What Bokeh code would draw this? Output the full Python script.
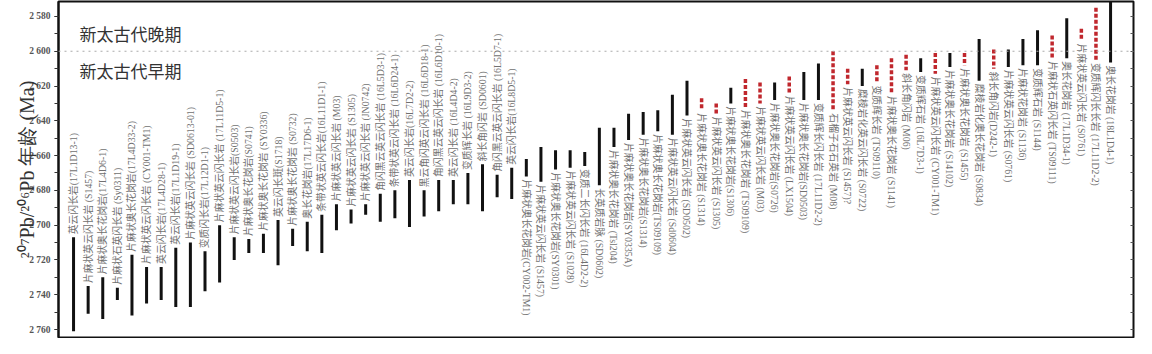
import math
from bokeh.plotting import figure
from bokeh.models import ColumnDataSource, Range1d, LinearAxis, FixedTicker, Span, Label
from bokeh.core.properties import value
from bokeh.embed import file_html
from bokeh.resources import INLINE

# ---------------- data ----------------
labels = [
    "英云闪长岩(17L1D13-1)", "片麻状英云闪长岩 (S1457)", "片麻状奥长花岗岩(17L4D6-1)",
    "片麻状石英闪长岩 (Sy0311)", "片麻状奥长花岗岩(17L4D33-2)", "片麻状英云闪长岩 (CY001-TM1)",
    "英云闪长岩(17L4D28-1)", "英云闪长岩(17L1D19-1)", "片麻状英云闪长岩 (SD0613-01)",
    "变质闪长岩(17L12D1-1)", "片麻状英云闪长岩 (17L11D5-1)", "片麻状英云闪长岩(S0503)",
    "片麻状奥长花岗岩(S0741)", "片麻状奥长花岗岩 (SY0336)", "英云闪长斑(S1718)",
    "片麻状奥长花岗岩 (S0732)", "奥长花岗岩(17L17D6-1)", "条带状英云闪长岩(16L11D1-1)",
    "片麻状英云闪长岩 (M03)", "片麻状英云闪长岩 (S1305)", "片麻状英云闪长岩 (JN0742)",
    "角闪黑云英云闪长岩 (16L5D3-1)", "条带状英云闪长岩 (16L6D24-1)", "英云闪长岩(16L7D2-2)",
    "黑云角闪英云闪长岩 (16L6D18-1)", "角闪黑云英云闪长岩 (16L6D10-1)", "英云闪长岩 (16L4D4-2)",
    "变质辉长岩 (16L9D3-2)", "斜长角闪岩 (SD0601)", "角闪黑云英云闪长岩 (16L5D7-1)",
    "英云闪长岩(16L8D5-1)",
    "片麻状奥长花岗岩(CY002-TM1)", "片麻状英云闪长岩 (S1457)", "片麻状奥长花岗岩(SY0301)",
    "片麻状英云闪长岩 (S1028)", "变质二长闪长岩 (16L4D2-2)", "长英质岩脉 (SD0602)",
    "片麻状奥长花岗岩 (Tsl204)", "片麻状奥长花岗岩(SY0335A)", "片麻状奥长花岗岩(S1314)",
    "片麻状奥长花岗岩(TS09109)", "片麻状英云闪长岩 (Sd0604)", "片麻状英云闪长岩 (SD0502)",
    "片麻状奥长花岗岩 (S1314)", "片麻状英云闪长岩 (S1305)", "片麻状奥长花岗岩(S1306)",
    "片麻状奥长花岗岩 (TS09109)", "片麻状英云闪长岩 (M03)", "片麻状奥长花岗岩(S0726)",
    "片麻状英云闪长岩 (LX1504)", "片麻状奥长花岗岩(SD0503)", "变质辉长闪长岩 (17L11D2-2)",
    "石榴子石石英岩 (M08)", "片麻状英云闪长岩 (S1457)?", "糜棱岩化英云闪长岩 (S0722)",
    "变质辉长岩 (TS09110)", "片麻状奥长花岗岩 (S1141)", "斜长角闪岩 (M06)",
    "变质辉石岩 (16L7D3-1)", "片麻状英云闪长岩 (CY001-TM1)", "片麻状奥长花岗岩 (S14102)",
    "片麻状奥长花岗岩 (S1455)", "糜棱岩化奥长花岗岩 (S0834)", "斜长角闪岩(D242-1)",
    "片麻状英云闪长岩 (S0761)", "片麻状花岗岩 (S1136)", "变质辉石岩 (S1144)",
    "片麻状石英闪长岩 (TS09111)", "奥长花岗岩 (17L1D34-1)", "片麻状英云闪长岩 (S0761)",
    "变质辉闪长长岩 (17L11D2-2)", "奥长花岗岩 (18L1D4-1)",
]
age_min = [
    2707, 2735, 2730, 2736, 2717, 2724, 2724, 2713, 2710, 2715, 2700, 2707,
    2708, 2705, 2697, 2702, 2698, 2694, 2688, 2691, 2688, 2682, 2680, 2674,
    2680, 2674, 2674, 2670, 2665, 2671, 2667,
    2662, 2655, 2657, 2657, 2658, 2644, 2644, 2636, 2635, 2634, 2625, 2617,
    2627, 2630, 2621, 2616, 2618, 2618, 2614.5, 2612, 2607, 2600, 2610, 2610,
    2608, 2604, 2602, 2604, 2601, 2601, 2601, 2593, 2599, 2599, 2593, 2588,
    2591, 2581, 2587, 2575, 2570,
]
age_max = [
    2761, 2751, 2754, 2743, 2752, 2745, 2743, 2747, 2747, 2738, 2733, 2720,
    2716, 2716, 2723, 2712, 2715, 2716, 2703, 2699, 2694, 2698, 2696, 2701,
    2695, 2692, 2688, 2688, 2692, 2684, 2685,
    2672, 2675, 2668, 2667, 2666, 2677, 2655, 2651, 2648, 2646, 2648, 2637,
    2634, 2636, 2630, 2632, 2630, 2628, 2624, 2628, 2628, 2634, 2619, 2620,
    2618, 2624, 2611, 2612, 2613, 2609, 2608, 2617, 2610, 2609, 2608, 2608,
    2604, 2604, 2594, 2605, 2606.5,
]
# "b": black solid bar, "r": red dashed bar
kind = (["b"] * 43 + ["r", "r", "b", "r", "r", "b", "r", "b", "b", "r", "r", "b",
        "r", "r", "r", "b", "r", "b", "r", "b", "r", "b", "b", "b", "r", "b", "r", "r", "b"])

y_ticks = list(range(2580, 2761, 20))
y_minor_ticks = list(range(2570, 2766, 10))
y_title = "²⁰⁷Pb/²⁰⁶Pb 年龄 (Ma)"
period_labels = ["新太古代晚期", "新太古代早期"]
period_ages = [2590, 2611]
boundary_age = 2600
n_labels_above = 31

# ---------------- figure ----------------
order = list(range(1, len(labels) + 1))

p = figure(width=1136, height=338, output_backend="svg", toolbar_location=None,
           x_axis_location=None, x_range=Range1d(-0.03, 73.57),
           y_range=Range1d(2764.6, 2571.4),
           min_border_left=58, min_border_right=3, min_border_top=1, min_border_bottom=1)
p.background_fill_color = "white"
p.border_fill_color = "white"
p.outline_line_color = "#111111"
p.outline_line_width = 2
p.grid.visible = False

ya = p.yaxis[0]
ya.ticker = FixedTicker(ticks=y_ticks, minor_ticks=y_minor_ticks)
ya.major_label_overrides = {t: "%d %03d" % (t // 1000, t % 1000) for t in y_ticks}
ya.axis_line_color = "#111111"
ya.axis_line_width = 2
ya.major_tick_in = 0
ya.major_tick_out = 4
ya.minor_tick_in = 0
ya.minor_tick_out = 4
ya.major_tick_line_color = "#333333"
ya.minor_tick_line_color = "#333333"
ya.major_label_text_font = "Liberation Serif"
ya.major_label_text_font_style = "bold"
ya.major_label_text_font_size = "9.5px"
ya.major_label_text_color = "#555555"
ya.major_label_standoff = 4
ya.axis_label = y_title
ya.axis_label_text_font = "Liberation Serif"
ya.axis_label_text_font_size = "20px"
ya.axis_label_text_font_style = "normal"
ya.axis_label_text_color = "#333333"
ya.axis_label_standoff = -12

# right frame side: inward ticks only (drawn as minor ticks, no labels)
ra = LinearAxis(ticker=FixedTicker(ticks=[], minor_ticks=y_minor_ticks))
ra.axis_line_color = None
ra.major_tick_in = 0
ra.major_tick_out = 0
ra.minor_tick_in = 3
ra.minor_tick_out = 0
ra.minor_tick_line_color = "#555555"
ra.major_label_standoff = 0
p.add_layout(ra, "right")

p.add_layout(Span(location=boundary_age, dimension="width", line_color="#aaaaaa",
                  line_dash="dotted", line_width=1))

for txt, age in zip(period_labels, period_ages):
    p.add_layout(Label(x=1.4, y=age, text=txt, text_align="left", text_baseline="middle",
                       text_font="Noto Sans CJK SC", text_font_size="17px",
                       text_color="#333333"))

src_b = ColumnDataSource(dict(
    x=[o for o, k in zip(order, kind) if k == "b"],
    lo=[a for a, k in zip(age_min, kind) if k == "b"],
    hi=[a for a, k in zip(age_max, kind) if k == "b"]))
src_r = ColumnDataSource(dict(
    x=[o for o, k in zip(order, kind) if k == "r"],
    lo=[a for a, k in zip(age_min, kind) if k == "r"],
    hi=[a for a, k in zip(age_max, kind) if k == "r"]))

p.segment(x0="x", y0="lo", x1="x", y1="hi", source=src_b, line_color="#111111",
          line_width=3, line_cap="butt")
p.segment(x0="x", y0="lo", x1="x", y1="hi", source=src_r, line_color="#c0272d",
          line_width=3.5, line_cap="butt", line_dash="4 2")

font = value("'Liberation Serif', 'Noto Sans CJK SC'")
src_up = ColumnDataSource(dict(x=order[:n_labels_above], y=age_min[:n_labels_above],
                               t=labels[:n_labels_above]))
src_dn = ColumnDataSource(dict(x=order[n_labels_above:], y=age_max[n_labels_above:],
                               t=labels[n_labels_above:]))
p.text(x="x", y="y", text="t", source=src_up, angle=math.pi / 2, text_align="left",
       text_baseline="middle", y_offset=-3, text_font=font, text_font_size="9.8px",
       text_color="#707070")
p.text(x="x", y="y", text="t", source=src_dn, angle=-math.pi / 2, text_align="left",
       text_baseline="middle", y_offset=3, text_font=font, text_font_size="9.8px",
       text_color="#707070")

open("out.html", "w").write(file_html(p, INLINE))
